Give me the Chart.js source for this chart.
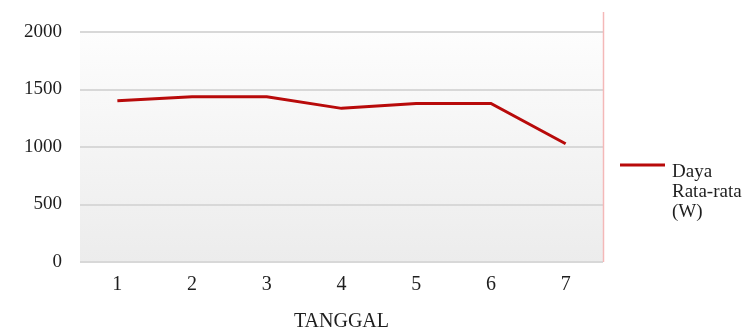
<!DOCTYPE html>
<html>
<head>
<meta charset="utf-8">
<script src="https://cdn.jsdelivr.net/npm/chart.js@4"></script>
<style>
  html, body { margin: 0; padding: 0; background: #fff; }
  #wrap { width: 751px; height: 334px; }
</style>
</head>
<body>
<div id="wrap"><canvas id="grafik" width="751" height="334"></canvas></div>
<script>
// data
const tanggal = ['1', '2', '3', '4', '5', '6', '7'];
const dayaRataRata = [1403, 1437, 1437, 1336, 1379, 1379, 1028];
const legendLines = ['Daya', 'Rata-rata', '(W)'];
const judulX = 'TANGGAL';

const serif = "'Liberation Serif', 'DejaVu Serif', serif";
const warnaGaris = '#b80a0a';
const warnaTeks = '#1e1e1e';

// latar area plot (gradasi) + garis merah muda di kanan
const latarPlot = {
    id: 'latarPlot',
    beforeDraw(chart) {
        const { ctx, chartArea: a } = chart;
        const g = ctx.createLinearGradient(0, a.top, 0, a.bottom);
        g.addColorStop(0, '#fdfdfd');
        g.addColorStop(1, '#ececec');
        ctx.save();
        ctx.fillStyle = g;
        ctx.fillRect(a.left, a.top, a.right - a.left, a.bottom - a.top);
        ctx.restore();
    },
    afterDraw(chart) {
        const { ctx, chartArea: a } = chart;
        ctx.save();
        ctx.strokeStyle = '#f4b8b8';
        ctx.lineWidth = 1.5;
        ctx.beginPath();
        ctx.moveTo(a.right + 0.5, a.top - 20);
        ctx.lineTo(a.right + 0.5, a.bottom);
        ctx.stroke();

        // legenda manual (teks 3 baris)
        const lx = a.right + 17;
        const ly = 165;
        ctx.strokeStyle = warnaGaris;
        ctx.lineWidth = 3;
        ctx.beginPath();
        ctx.moveTo(lx, ly);
        ctx.lineTo(lx + 45, ly);
        ctx.stroke();
        ctx.fillStyle = warnaTeks;
        ctx.font = '19px ' + serif;
        ctx.textBaseline = 'middle';
        legendLines.forEach((t, i) => {
            ctx.fillText(t, lx + 52, ly + 7 + i * 20);
        });
        ctx.restore();
    }
};

const chart = new Chart(document.getElementById('grafik'), {
    type: 'line',
    data: {
        labels: tanggal,
        datasets: [{
            label: legendLines.join(' '),
            data: dayaRataRata,
            borderColor: warnaGaris,
            borderWidth: 3,
            pointRadius: 0,
            tension: 0,
            fill: false
        }]
    },
    options: {
        responsive: false,
        animation: false,
        layout: { padding: { top: 32, right: 148, left: 0, bottom: 0 } },
        plugins: {
            legend: { display: false },
            tooltip: { enabled: false }
        },
        scales: {
            x: {
                offset: true,
                grid: { display: false },
                border: { display: false },
                ticks: { color: warnaTeks, font: { family: serif, size: 20 }, padding: 3 },
                title: {
                    display: true,
                    text: judulX,
                    color: warnaTeks,
                    font: { family: serif, size: 20 },
                    padding: { top: 0, bottom: 0 }
                },
                afterFit: (s) => { s.height = 72; }
            },
            y: {
                min: 0,
                max: 2000,
                grid: { color: '#d8d8d8', lineWidth: 2, drawTicks: false },
                border: { display: false },
                ticks: {
                    stepSize: 500,
                    color: warnaTeks,
                    font: { family: serif, size: 19 },
                    padding: 18,
                    callback: (v) => String(v)
                },
                afterFit: (s) => { s.width = 80; }
            }
        }
    },
    plugins: [latarPlot]
});
</script>
</body>
</html>
